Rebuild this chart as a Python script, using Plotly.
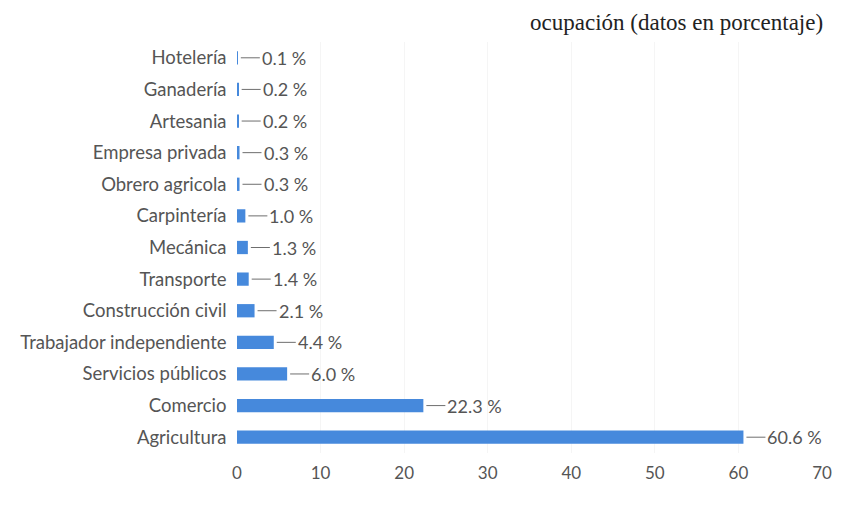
import plotly.graph_objects as go

categories = ["Agricultura", "Comercio", "Servicios públicos", "Trabajador independiente",
              "Construcción civil", "Transporte", "Mecánica", "Carpintería",
              "Obrero agricola", "Empresa privada", "Artesania", "Ganadería", "Hotelería"]
values = [60.6, 22.3, 6.0, 4.4, 2.1, 1.4, 1.3, 1.0, 0.3, 0.3, 0.2, 0.2, 0.1]
x_ticks = [0, 10, 20, 30, 40, 50, 60, 70]
title_text = "ocupación (datos en porcentaje)"

bar_color = "#4689dc"
text_color = "#555555"
font_family = "Lato, Open Sans, sans-serif"

# page has an 8px body margin; figure sized to fit the window without scrolling
OFF = 8
W, H = 844 - OFF, 515 - 2 * OFF
ML, MR, MT = 237 - OFF, 22, 42 - OFF
MB = H - MT - (453 - 42)

fig = go.Figure(go.Bar(
    x=values, y=categories, orientation="h",
    marker=dict(color=bar_color, line=dict(width=0)),
    width=0.42, hoverinfo="skip",
))

for c, v in zip(categories, values):
    fig.add_annotation(
        x=v, y=c, xref="x", yref="y",
        text=f"{v:.1f} %", showarrow=True, arrowhead=0, arrowwidth=1,
        arrowcolor="#6e6e6e", ax=22, ay=0, xanchor="left", standoff=3,
        font=dict(family=font_family, size=18, color=text_color),
    )

fig.add_annotation(
    x=(528 - OFF - ML) / (W - ML - MR), y=1 + (MT - 14) / (H - MT - MB),
    xref="paper", yref="paper", text=title_text, showarrow=False,
    xanchor="left", yanchor="middle",
    font=dict(family="Liberation Serif, serif", size=23, color="#222222"),
)

fig.update_layout(
    width=W, height=H,
    margin=dict(l=ML, r=MR, t=MT, b=MB),
    paper_bgcolor="white", plot_bgcolor="white",
    showlegend=False,
    font=dict(family=font_family, color=text_color),
    xaxis=dict(range=[0, 70], tickvals=x_ticks, showgrid=True, automargin=False,
               gridcolor="rgba(0,0,0,0.04)", zeroline=False, showline=False,
               tickfont=dict(size=17, color="#555555"), ticks="", ticklen=0,
               ticklabelstandoff=8),
    yaxis=dict(categoryorder="array", categoryarray=categories, showgrid=False,
               automargin=False, showline=False, zeroline=False, ticks="",
               tickfont=dict(size=18.5, color=text_color), ticksuffix="  "),
)

fig.write_html("out.html")
